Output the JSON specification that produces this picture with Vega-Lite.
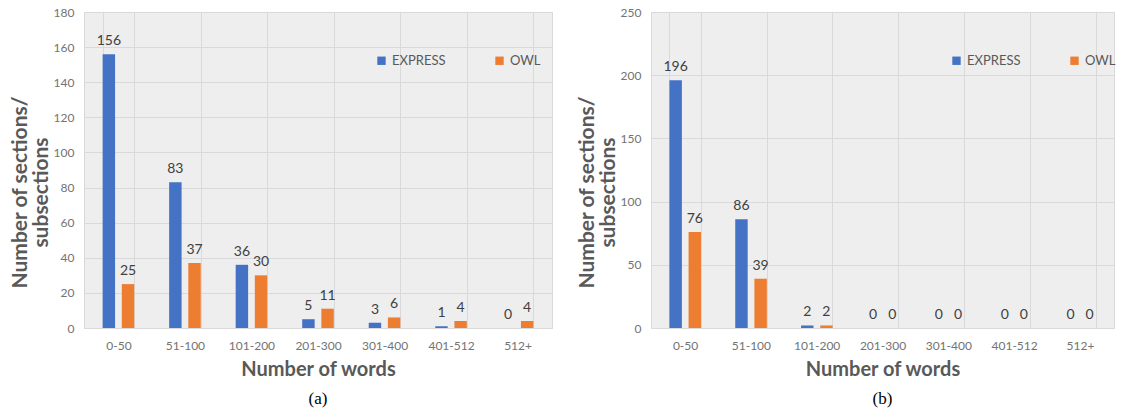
{
  "$schema": "https://vega.github.io/schema/vega-lite/v6.json",
  "background": "white",
  "padding": {"left": 8, "top": 5, "right": 0, "bottom": 0},
  "spacing": 22,
  "config": {
    "font": "Lato",
    "view": {"fill": "#eeeeee", "stroke": "#d9d9d9"},
    "axis": {
      "gridColor": "#d9d9d9",
      "domain": false,
      "ticks": false,
      "labelColor": "#737373",
      "labelFontSize": 12,
      "titleColor": "#595959",
      "titleFontSize": 20,
      "titleFontWeight": "bold"
    },
    "legend": {
      "orient": "none",
      "direction": "horizontal",
      "symbolType": "square",
      "symbolSize": 70,
      "labelFontSize": 13,
      "labelColor": "#595959",
      "columnPadding": 47,
      "title": null
    }
  },
  "datasets": {
    "a": [
      {"range": "0-50", "series": "EXPRESS", "count": 156},
      {"range": "0-50", "series": "OWL", "count": 25},
      {"range": "51-100", "series": "EXPRESS", "count": 83},
      {"range": "51-100", "series": "OWL", "count": 37},
      {"range": "101-200", "series": "EXPRESS", "count": 36},
      {"range": "101-200", "series": "OWL", "count": 30},
      {"range": "201-300", "series": "EXPRESS", "count": 5},
      {"range": "201-300", "series": "OWL", "count": 11},
      {"range": "301-400", "series": "EXPRESS", "count": 3},
      {"range": "301-400", "series": "OWL", "count": 6},
      {"range": "401-512", "series": "EXPRESS", "count": 1},
      {"range": "401-512", "series": "OWL", "count": 4},
      {"range": "512+", "series": "EXPRESS", "count": 0},
      {"range": "512+", "series": "OWL", "count": 4}
    ],
    "b": [
      {"range": "0-50", "series": "EXPRESS", "count": 196},
      {"range": "0-50", "series": "OWL", "count": 76},
      {"range": "51-100", "series": "EXPRESS", "count": 86},
      {"range": "51-100", "series": "OWL", "count": 39},
      {"range": "101-200", "series": "EXPRESS", "count": 2},
      {"range": "101-200", "series": "OWL", "count": 2},
      {"range": "201-300", "series": "EXPRESS", "count": 0},
      {"range": "201-300", "series": "OWL", "count": 0},
      {"range": "301-400", "series": "EXPRESS", "count": 0},
      {"range": "301-400", "series": "OWL", "count": 0},
      {"range": "401-512", "series": "EXPRESS", "count": 0},
      {"range": "401-512", "series": "OWL", "count": 0},
      {"range": "512+", "series": "EXPRESS", "count": 0},
      {"range": "512+", "series": "OWL", "count": 0}
    ]
  },
  "resolve": {"legend": {"color": "independent"}},
  "hconcat": [
    {
      "width": 468,
      "height": 316,
      "data": {"name": "a"},
      "title": {"text": "(a)", "orient": "bottom", "font": "Liberation Serif", "fontSize": 17, "fontWeight": "normal", "color": "#000000", "offset": 12},
      "encoding": {
        "x": {
          "field": "range", "type": "nominal",
          "sort": ["0-50", "51-100", "101-200", "201-300", "301-400", "401-512", "512+"],
          "scale": {"paddingInner": 0.525, "paddingOuter": 0.28},
          "axis": {"title": "Number of words", "labelAngle": 0, "tickBand": "extent", "grid": true, "labelPadding": 12, "titlePadding": 8}
        },
        "xOffset": {"field": "series", "sort": ["EXPRESS", "OWL"], "scale": {"paddingInner": 0.35}},
        "y": {
          "field": "count", "type": "quantitative",
          "scale": {"domain": [0, 180]},
          "axis": {"title": ["Number of sections/", "subsections"], "titleFontSize": 21, "titleLineHeight": 21, "titleY": 180, "values": [0, 20, 40, 60, 80, 100, 120, 140, 160, 180], "labelPadding": 10, "titlePadding": 2}
        }
      },
      "layer": [
        {
          "mark": "bar",
          "encoding": {
            "color": {
              "field": "series", "type": "nominal",
              "scale": {"domain": ["EXPRESS", "OWL"], "range": ["#4472C4", "#ED7D31"]},
              "legend": {"legendX": 291, "legendY": 42}
            }
          }
        },
        {
          "mark": {"type": "text", "dy": -13, "fontSize": 14, "color": "#404040"},
          "encoding": {"text": {"field": "count", "type": "quantitative"}}
        }
      ]
    },
    {
      "width": 463,
      "height": 316,
      "data": {"name": "b"},
      "title": {"text": "(b)", "orient": "bottom", "font": "Liberation Serif", "fontSize": 17, "fontWeight": "normal", "color": "#000000", "offset": 12},
      "encoding": {
        "x": {
          "field": "range", "type": "nominal",
          "sort": ["0-50", "51-100", "101-200", "201-300", "301-400", "401-512", "512+"],
          "scale": {"paddingInner": 0.525, "paddingOuter": 0.28},
          "axis": {"title": "Number of words", "labelAngle": 0, "tickBand": "extent", "grid": true, "labelPadding": 12, "titlePadding": 8}
        },
        "xOffset": {"field": "series", "sort": ["EXPRESS", "OWL"], "scale": {"paddingInner": 0.35}},
        "y": {
          "field": "count", "type": "quantitative",
          "scale": {"domain": [0, 250]},
          "axis": {"title": ["Number of sections/", "subsections"], "titleFontSize": 21, "titleLineHeight": 21, "titleY": 180, "values": [0, 50, 100, 150, 200, 250], "labelPadding": 10, "titlePadding": 2}
        }
      },
      "layer": [
        {
          "mark": "bar",
          "encoding": {
            "color": {
              "field": "series", "type": "nominal",
              "scale": {"domain": ["EXPRESS", "OWL"], "range": ["#4472C4", "#ED7D31"]},
              "legend": {"legendX": 299, "legendY": 42}
            }
          }
        },
        {
          "mark": {"type": "text", "dy": -13, "fontSize": 14, "color": "#404040"},
          "encoding": {"text": {"field": "count", "type": "quantitative"}}
        }
      ]
    }
  ]
}
